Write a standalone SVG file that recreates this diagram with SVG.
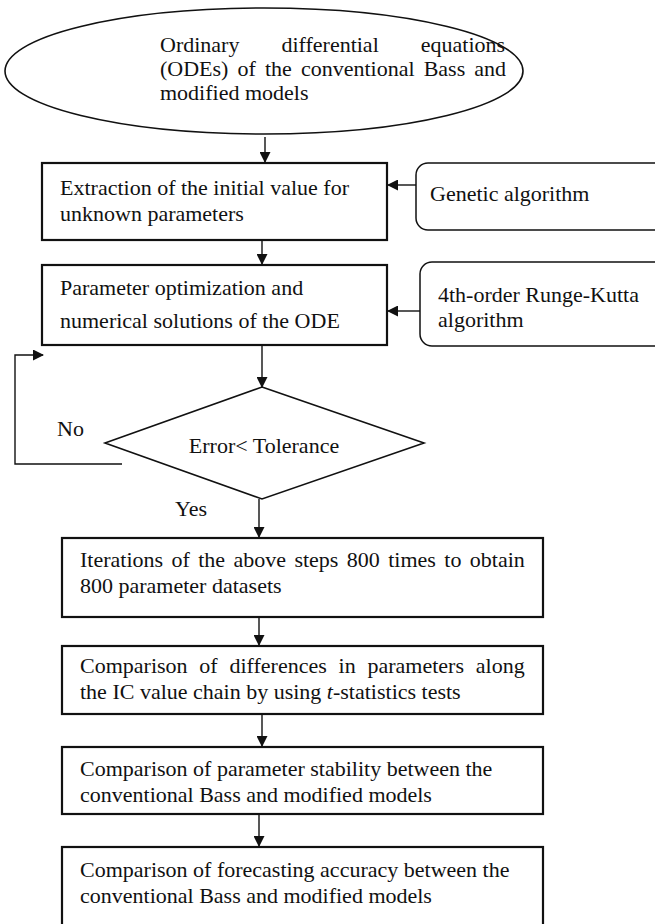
<svg xmlns="http://www.w3.org/2000/svg" width="655" height="924" viewBox="0 0 655 924">
<style>
text{font-family:"Liberation Serif","Times New Roman",serif;font-size:22px;fill:#111}
.box{fill:#fff;stroke:#111;stroke-width:2.2}
.rbox{fill:#fff;stroke:#111;stroke-width:1.5}
.shape{fill:#fff;stroke:#111;stroke-width:1.6}
.conn{fill:none;stroke:#111;stroke-width:1.4}
</style>
<defs>
<marker id="ah" markerWidth="11" markerHeight="11" refX="10" refY="5.5" orient="auto" markerUnits="userSpaceOnUse">
<path d="M0,0 L11,5.5 L0,11 Z" fill="#111"/>
</marker>
</defs>
<rect width="655" height="924" fill="#fff"/>
<g id="n1">
<ellipse class="shape" cx="264" cy="71" rx="259" ry="63"/>
<text x="160" y="52" word-spacing="36.5">Ordinary differential equations</text>
<text x="160" y="76" word-spacing="3.6">(ODEs) of the conventional Bass and</text>
<text x="160" y="100">modified models</text>
</g>
<g id="n2">
<rect class="box" x="42" y="163" width="345" height="77"/>
<text x="60" y="195">Extraction of the initial value for</text>
<text x="60" y="221">unknown parameters</text>
</g>
<g id="n3">
<rect class="rbox" x="416" y="163" width="250" height="67" rx="12"/>
<text x="430" y="201">Genetic algorithm</text>
</g>
<g id="n4">
<rect class="box" x="42" y="265" width="345" height="80"/>
<text x="60" y="295">Parameter optimization and</text>
<text x="60" y="328">numerical solutions of the ODE</text>
</g>
<g id="n5">
<rect class="rbox" x="420" y="262" width="250" height="84" rx="12"/>
<text x="438" y="302">4th-order Runge-Kutta</text>
<text x="438" y="327">algorithm</text>
</g>
<g id="n6">
<polygon class="shape" points="262,387 424,443 262,499 105,443"/>
<text x="264" y="453" text-anchor="middle">Error&lt; Tolerance</text>
</g>
<g id="n7">
<rect class="box" x="62" y="538" width="481" height="79"/>
<text x="80" y="567" word-spacing="2.9">Iterations of the above steps 800 times to obtain</text>
<text x="80" y="593">800 parameter datasets</text>
</g>
<g id="n8">
<rect class="box" x="62" y="646" width="481" height="68"/>
<text x="80" y="673" word-spacing="6.3">Comparison of differences in parameters along</text>
<text x="80" y="699">the IC value chain by using <tspan font-style="italic">t</tspan>-statistics tests</text>
</g>
<g id="n9">
<rect class="box" x="62" y="747" width="481" height="67"/>
<text x="80" y="776">Comparison of parameter stability between the</text>
<text x="80" y="802">conventional Bass and modified models</text>
</g>
<g id="n10">
<rect class="box" x="62" y="847" width="481" height="90"/>
<text x="80" y="877">Comparison of forecasting accuracy between the</text>
<text x="80" y="903">conventional Bass and modified models</text>
</g>
<g id="connectors">
<line class="conn" x1="265" y1="137" x2="265" y2="162" marker-end="url(#ah)"/>
<line class="conn" x1="416" y1="185" x2="388" y2="185" marker-end="url(#ah)"/>
<line class="conn" x1="262" y1="241" x2="262" y2="264" marker-end="url(#ah)"/>
<line class="conn" x1="420" y1="311" x2="388" y2="311" marker-end="url(#ah)"/>
<line class="conn" x1="262" y1="346" x2="262" y2="387" marker-end="url(#ah)"/>
<polyline class="conn" points="122,464 15,464 15,355 43,355" marker-end="url(#ah)"/>
<text x="57" y="436">No</text>
<text x="175" y="516">Yes</text>
<line class="conn" x1="259" y1="499" x2="259" y2="537" marker-end="url(#ah)"/>
<line class="conn" x1="259" y1="618" x2="259" y2="645" marker-end="url(#ah)"/>
<line class="conn" x1="262" y1="715" x2="262" y2="746" marker-end="url(#ah)"/>
<line class="conn" x1="259" y1="815" x2="259" y2="846" marker-end="url(#ah)"/>
</g>
</svg>
